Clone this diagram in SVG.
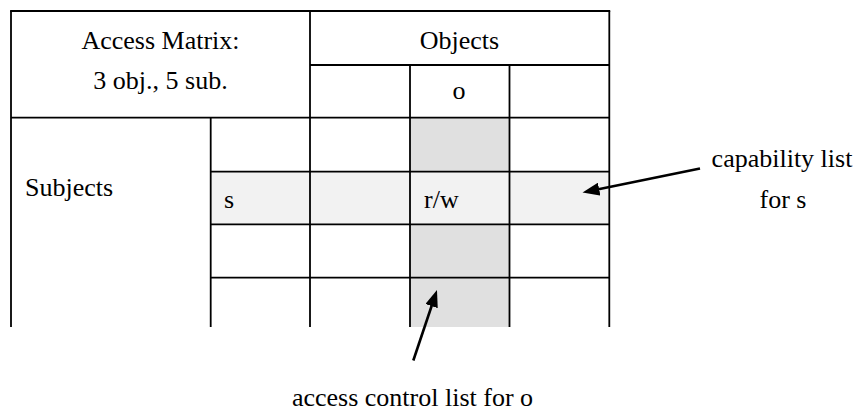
<svg xmlns="http://www.w3.org/2000/svg" width="858" height="412" viewBox="0 0 858 412">
  <style>
    text { font-family: "Liberation Serif", "Times New Roman", serif; font-size: 26px; fill: #000; }
    .mid { text-anchor: middle; }
    .grid line { stroke: #000; stroke-width: 1.8; }
    .row-hl { fill: #f2f2f2; }
    .col-hl { fill: #e0e0e0; }
    .arrow { stroke: #000; stroke-width: 2.6; fill: none; marker-end: url(#head); }
  </style>
  <defs>
    <marker id="head" viewBox="0 0 17 13" refX="7" refY="6.5" markerWidth="17" markerHeight="13" markerUnits="userSpaceOnUse" orient="auto">
      <path d="M0,0 L17,6.5 L0,13 z" fill="#000"/>
    </marker>
  </defs>

  <rect width="858" height="412" fill="#fff"/>

  <!-- access matrix table -->
  <g id="matrix">
    <!-- highlighted row for subject s and column for object o -->
    <rect class="row-hl" x="210.7" y="171.7" width="398.6" height="52.6"/>
    <rect class="col-hl" x="410" y="117.7" width="99.5" height="54"/>
    <rect class="col-hl" x="410" y="224.3" width="99.5" height="102.7"/>

    <g class="grid">
      <line x1="11" y1="11" x2="11" y2="327"/>
      <line x1="210.7" y1="117.7" x2="210.7" y2="327"/>
      <line x1="310" y1="11" x2="310" y2="327"/>
      <line x1="410" y1="65" x2="410" y2="327"/>
      <line x1="509.5" y1="65" x2="509.5" y2="327"/>
      <line x1="609.3" y1="11" x2="609.3" y2="327"/>
      <line x1="10.1" y1="11" x2="610.2" y2="11"/>
      <line x1="310" y1="65" x2="609.3" y2="65"/>
      <line x1="11" y1="117.7" x2="609.3" y2="117.7"/>
      <line x1="210.7" y1="171.7" x2="609.3" y2="171.7"/>
      <line x1="210.7" y1="224.3" x2="609.3" y2="224.3"/>
      <line x1="210.7" y1="277.7" x2="609.3" y2="277.7"/>
    </g>

    <g id="title">
      <text class="mid" x="160.5" y="48.5">Access Matrix:</text>
      <text class="mid" x="160.5" y="89.3">3 obj., 5 sub.</text>
    </g>
    <text id="objects-header" class="mid" x="459.5" y="49">Objects</text>
    <text id="object-o" class="mid" x="459" y="99">o</text>
    <text id="subjects-header" x="25" y="195.5">Subjects</text>
    <text id="subject-s" x="224" y="208.3">s</text>
    <text id="entry-rw" x="424" y="208">r/w</text>
  </g>

  <g id="capability-label">
    <text class="mid" x="782" y="167">capability list</text>
    <text class="mid" x="783" y="208">for s</text>
  </g>

  <g id="acl-label">
    <text class="mid" x="412.5" y="406">access control list for o</text>
  </g>

  <!-- pointers from the labels into the table -->
  <g id="connectors">
    <line class="arrow" x1="700" y1="168.5" x2="592.3" y2="190.5"/>
    <line class="arrow" x1="413.3" y1="360.5" x2="433.8" y2="299.5"/>
  </g>
</svg>
